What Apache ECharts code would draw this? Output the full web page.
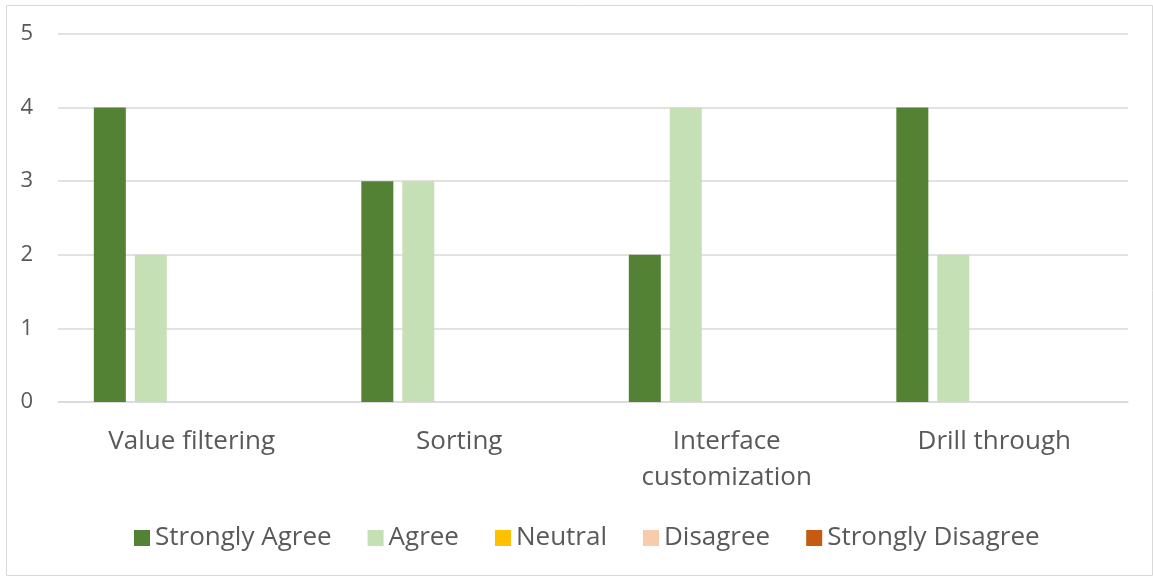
<!DOCTYPE html>
<html><head><meta charset="utf-8">
<script src="https://cdn.jsdelivr.net/npm/echarts@6/dist/echarts.min.js"></script>
<style>html,body{margin:0;padding:0;background:#fff}#c{width:1153px;height:576px}</style>
</head><body><div id="c"></div>
<script>
const categories = ['Value filtering', 'Sorting', 'Interface\ncustomization', 'Drill through'];
const seriesNames = ['Strongly Agree', 'Agree', 'Neutral', 'Disagree', 'Strongly Disagree'];
const stronglyAgree = [4, 3, 2, 4];
const agree = [2, 3, 4, 2];
const neutral = [0, 0, 0, 0];
const disagree = [0, 0, 0, 0];
const stronglyDisagree = [0, 0, 0, 0];
const colors = ['#548235', '#C5E0B4', '#FFC000', '#F8CBAD', '#C55A11'];
const values = [stronglyAgree, agree, neutral, disagree, stronglyDisagree];
const font = 'Open Sans';
const chart = echarts.init(document.getElementById('c'));
chart.setOption({
  animation: false,
  color: colors,
  graphic: [{type:'rect', shape:{x:6.5, y:5.5, width:1146, height:570}, style:{fill:'none', stroke:'#d9d9d9', lineWidth:1}, silent:true}],
  grid: {left: 58, right: 25, top: 34, bottom: 174, containLabel: false},
  legend: {
    top: 519, left: 129, icon: 'rect', itemWidth: 16, itemHeight: 16, itemGap: 36,
    textStyle: {fontFamily: font, fontSize: 26, lineHeight: 28, color: '#595959'},
    data: seriesNames
  },
  xAxis: {
    type: 'category', data: categories,
    axisLine: {lineStyle: {color: '#d9d9d9', width: 1.5}},
    axisTick: {show: false},
    axisLabel: {fontFamily: font, fontSize: 26, color: '#595959', margin: 22, lineHeight: 36}
  },
  yAxis: {
    type: 'value', min: 0, max: 5, interval: 1,
    axisLine: {show: false}, axisTick: {show: false},
    splitLine: {lineStyle: {color: '#d9d9d9', width: 1.5}},
    axisLabel: {fontFamily: font, fontSize: 22, color: '#595959', margin: 25}
  },
  series: seriesNames.map((n, i) => ({
    name: n, type: 'bar', data: values[i], barWidth: 32, barGap: '28%',
    itemStyle: {color: colors[i]}
  }))
});
</script></body></html>
